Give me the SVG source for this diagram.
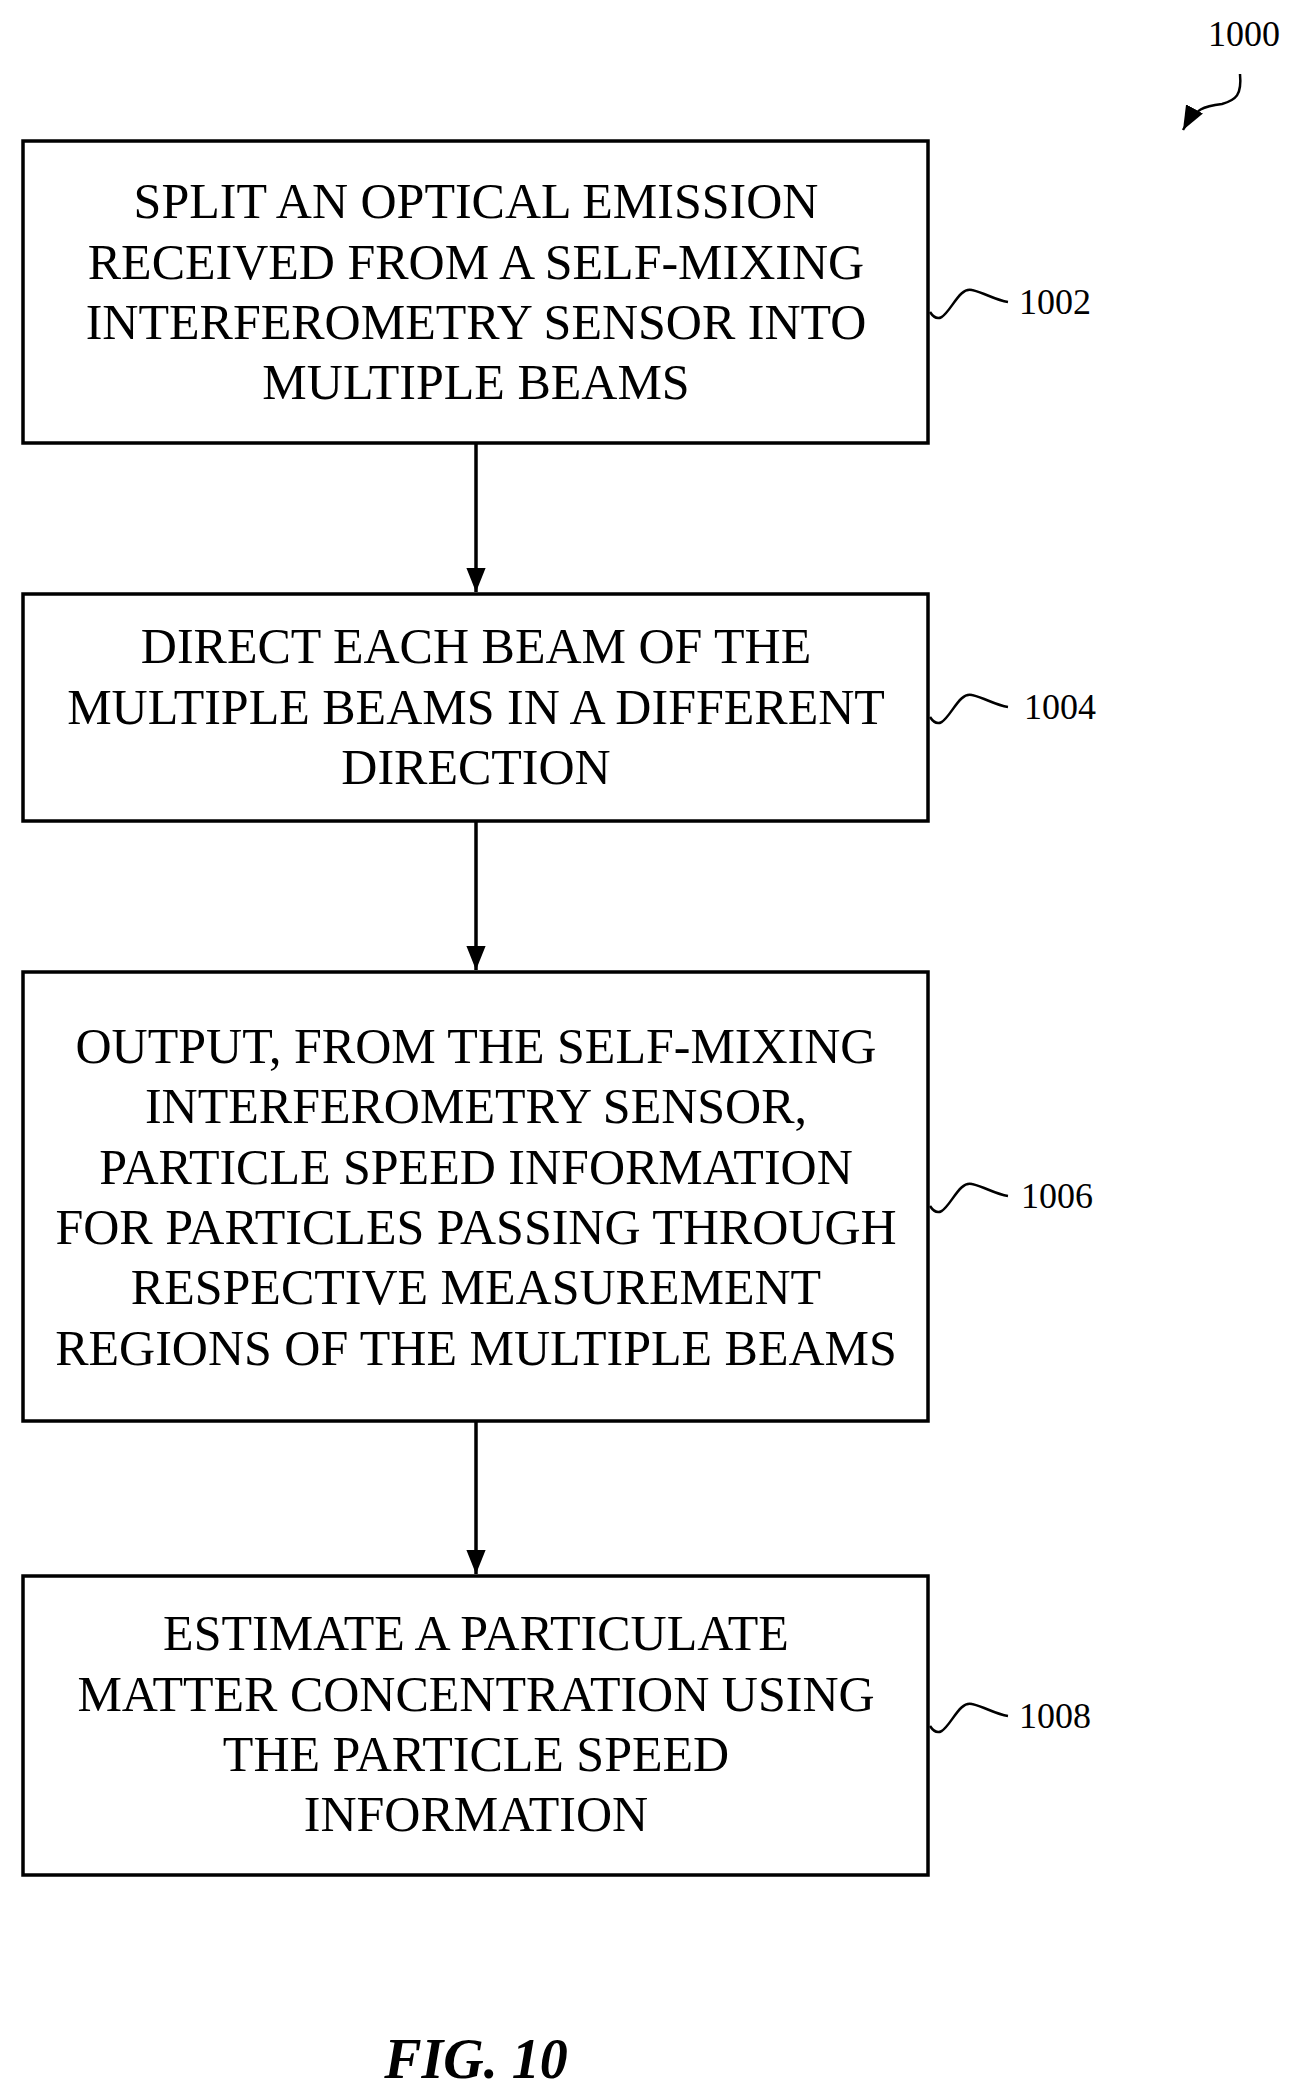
<svg xmlns="http://www.w3.org/2000/svg" width="1298" height="2091" viewBox="0 0 1298 2091">
<style>
.box{fill:#fff;stroke:#000;stroke-width:3.5}
.t{font-family:"Liberation Serif",serif;font-size:50px;text-anchor:middle;fill:#000}
.lbl{font-family:"Liberation Serif",serif;font-size:36px;fill:#000}
.sq{fill:none;stroke:#000;stroke-width:2.5}
.ln{stroke:#000;stroke-width:3.5;fill:none}
</style>
<defs>
<marker id="ah2" viewBox="0 0 10 10" refX="10" refY="5" markerWidth="24" markerHeight="24" markerUnits="userSpaceOnUse" orient="auto"><path d="M0,1L10,5L0,9z" fill="#000"/></marker></defs>
<rect width="1298" height="2091" fill="#fff"/>
<g id="connectors">
<line class="ln" x1="476" y1="443" x2="476" y2="592" marker-end="url(#ah2)"/>
<line class="ln" x1="476" y1="821" x2="476" y2="970" marker-end="url(#ah2)"/>
<line class="ln" x1="476" y1="1421" x2="476" y2="1574" marker-end="url(#ah2)"/>
</g>
<g id="ref1000">
<text class="lbl" x="1244" y="46" text-anchor="middle">1000</text>
<path class="sq" d="M1240,74 C1242,95 1236,100 1222,104 C1205,106 1195,108 1183,130" marker-end="url(#ah2)"/>
</g>
<g id="n1002">
<rect class="box" x="23" y="141" width="905" height="302"/>
<text class="t" x="476" y="218">SPLIT AN OPTICAL EMISSION</text>
<text class="t" x="476" y="279">RECEIVED FROM A SELF-MIXING</text>
<text class="t" x="476" y="339">INTERFEROMETRY SENSOR INTO</text>
<text class="t" x="476" y="399">MULTIPLE BEAMS</text>
<path class="sq" d="M930,312 C945,335 955,285 972,290 C985,293 995,300 1008,302"/>
<text class="lbl" x="1019" y="314">1002</text>
</g>
<g id="n1004">
<rect class="box" x="23" y="594" width="905" height="227"/>
<text class="t" x="476" y="663">DIRECT EACH BEAM OF THE</text>
<text class="t" x="476" y="724">MULTIPLE BEAMS IN A DIFFERENT</text>
<text class="t" x="476" y="784">DIRECTION</text>
<path class="sq" d="M930,717 C945,740 955,690 972,695 C985,698 995,705 1008,707"/>
<text class="lbl" x="1024" y="719">1004</text>
</g>
<g id="n1006">
<rect class="box" x="23" y="972" width="905" height="449"/>
<text class="t" x="476" y="1063">OUTPUT, FROM THE SELF-MIXING</text>
<text class="t" x="476" y="1123">INTERFEROMETRY SENSOR,</text>
<text class="t" x="476" y="1184">PARTICLE SPEED INFORMATION</text>
<text class="t" x="476" y="1244">FOR PARTICLES PASSING THROUGH</text>
<text class="t" x="476" y="1304">RESPECTIVE MEASUREMENT</text>
<text class="t" x="476" y="1365">REGIONS OF THE MULTIPLE BEAMS</text>
<path class="sq" d="M930,1206 C945,1229 955,1179 972,1184 C985,1187 995,1194 1008,1196"/>
<text class="lbl" x="1021" y="1208">1006</text>
</g>
<g id="n1008">
<rect class="box" x="23" y="1576" width="905" height="299"/>
<text class="t" x="476" y="1650">ESTIMATE A PARTICULATE</text>
<text class="t" x="476" y="1711">MATTER CONCENTRATION USING</text>
<text class="t" x="476" y="1771">THE PARTICLE SPEED</text>
<text class="t" x="476" y="1831">INFORMATION</text>
<path class="sq" d="M930,1726 C945,1749 955,1699 972,1704 C985,1707 995,1714 1008,1716"/>
<text class="lbl" x="1019" y="1728">1008</text>
</g>
<text x="476" y="2078" font-family="Liberation Serif,serif" font-size="56" font-weight="bold" font-style="italic" text-anchor="middle">FIG. 10</text>
</svg>
